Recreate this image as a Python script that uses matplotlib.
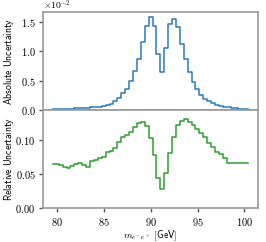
import numpy as np
import matplotlib
matplotlib.use("Agg")
import matplotlib.pyplot as plt
from matplotlib.ticker import FuncFormatter, MultipleLocator

plt.rcParams['mathtext.fontset'] = 'cm'

# bin centres [GeV]
mass = np.linspace(79.6, 100.4, 51)

# absolute uncertainty, in units of 1e-2
abs_unc = [0.012, 0.016, 0.018, 0.020, 0.022, 0.025, 0.028, 0.031, 0.035, 0.040,
           0.045, 0.052, 0.060, 0.070, 0.085, 0.108, 0.15, 0.21, 0.29, 0.36,
           0.49, 0.66, 0.87, 1.16, 1.43, 1.58, 1.43, 0.95, 0.64, 1.06,
           1.455, 1.54, 1.41, 1.12, 0.865, 0.64, 0.48, 0.35, 0.26, 0.19,
           0.146, 0.113, 0.09, 0.067, 0.057, 0.045, 0.034, 0.028, 0.022, 0.017,
           0.014]

rel_unc = [0.065, 0.065, 0.0628, 0.0603, 0.0584, 0.0618, 0.0643, 0.0662, 0.0628, 0.0603,
           0.0687, 0.070, 0.074, 0.075, 0.0815, 0.0834, 0.0873, 0.0962, 0.1035, 0.107,
           0.112, 0.119, 0.124, 0.126, 0.120, 0.102, 0.0775, 0.044, 0.0285, 0.0515,
           0.080, 0.1044, 0.1216, 0.1275, 0.1304, 0.1255, 0.1216, 0.1152, 0.1093, 0.1044,
           0.0956, 0.0897, 0.0824, 0.079, 0.0735, 0.0662, 0.0662, 0.0667, 0.0667, 0.0667,
           0.0667]

fig, (ax1, ax2) = plt.subplots(2, 1, sharex=True, figsize=(2.66, 2.42), dpi=100)
fig.subplots_adjust(left=0.162, right=0.970, top=0.950, bottom=0.140, hspace=0)

ax1.step(mass, np.array(abs_unc) * 1e-2, where='mid', color='#2b7bba', lw=1.1)
ax2.step(mass, rel_unc, where='mid', color='#2ca02c', lw=1.1)

ax1.set_ylim(0, 0.0166)
ax2.set_ylim(0, 0.1435)
ax1.yaxis.set_major_locator(MultipleLocator(0.005))
ax2.yaxis.set_major_locator(MultipleLocator(0.05))
ax2.xaxis.set_major_locator(MultipleLocator(5))

ax1.yaxis.set_major_formatter(FuncFormatter(lambda v, p: r'$%.1f$' % (v * 100)))
ax2.yaxis.set_major_formatter(FuncFormatter(lambda v, p: r'$%.2f$' % v))
ax2.xaxis.set_major_formatter(FuncFormatter(lambda v, p: r'$%d$' % v))

ax1.text(0.0, 1.0, r'$\times10^{-2}$', transform=ax1.transAxes, fontsize=7,
         ha='left', va='bottom')

for ax in (ax1, ax2):
    for s in ax.spines.values():
        s.set_color('#999999')
        s.set_linewidth(1.2)
    ax.tick_params(colors='#555555', labelcolor='black', labelsize=7.5,
                   length=3, width=1.0, direction='out', pad=2.5)
ax1.tick_params(axis='x', bottom=False)

ax1.set_ylabel(r'$\mathsf{Absolute\ Uncertainty}$', fontsize=7)
ax2.set_ylabel(r'$\mathsf{Relative\ Uncertainty}$', fontsize=7)
ax1.yaxis.set_label_coords(-0.125, 0.5)
ax2.yaxis.set_label_coords(-0.125, 0.5)
ax2.set_xlabel(r'$m_{e^-e^+}$ $\mathsf{[GeV]}$', fontsize=7, labelpad=1)

fig.savefig('out.png', dpi=100)
